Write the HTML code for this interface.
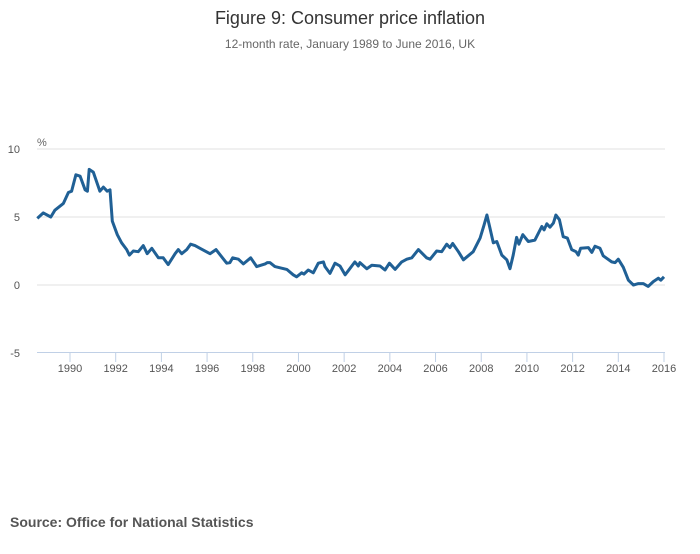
<!DOCTYPE html>
<html><head><meta charset="utf-8">
<style>
html,body{margin:0;padding:0;background:#fff;}
body{width:700px;height:549px;overflow:hidden;font-family:"Liberation Sans",sans-serif;}
svg text{font-family:"Liberation Sans",sans-serif;}
</style></head>
<body>
<svg id="chart" width="700" height="549" viewBox="0 0 700 549" xmlns="http://www.w3.org/2000/svg">
<text x="350" y="24" text-anchor="middle" font-size="18" fill="#333">Figure 9: Consumer price inflation</text>
<text x="350" y="48" text-anchor="middle" font-size="12" fill="#666">12-month rate, January 1989 to June 2016, UK</text>
<text x="37" y="146" font-size="11" fill="#666">%</text>
<g id="grid"></g>
<g id="yticks"></g>
<g id="xaxis"></g>
<path id="line" fill="none" stroke="#206095" stroke-width="3" stroke-linejoin="round"></path>
<text x="10" y="527" font-size="14" font-weight="bold" fill="#555">Source: Office for National Statistics</text>
</svg>
<script>
const years=[1988.57,1988.83,1989.16,1989.34,1989.71,1989.93,1990.07,1990.26,1990.44,1990.66,1990.76,1990.84,1991.02,1991.31,1991.46,1991.63,1991.75,1991.85,1992.07,1992.26,1992.48,1992.60,1992.77,1992.99,1993.21,1993.38,1993.58,1993.87,1994.08,1994.30,1994.60,1994.74,1994.89,1995.11,1995.28,1995.47,1995.69,1996.13,1996.39,1996.86,1997.00,1997.12,1997.37,1997.59,1997.91,1998.17,1998.54,1998.64,1998.75,1998.97,1999.49,1999.77,1999.92,2000.14,2000.24,2000.43,2000.65,2000.87,2001.09,2001.16,2001.38,2001.60,2001.82,2002.04,2002.18,2002.47,2002.62,2002.69,2002.99,2003.21,2003.57,2003.79,2003.98,2004.23,2004.52,2004.74,2004.96,2005.25,2005.61,2005.76,2006.05,2006.27,2006.49,2006.63,2006.75,2007.00,2007.22,2007.43,2007.65,2007.95,2008.12,2008.25,2008.38,2008.53,2008.68,2008.90,2009.12,2009.26,2009.40,2009.55,2009.65,2009.82,2010.06,2010.35,2010.65,2010.75,2010.87,2011.01,2011.16,2011.27,2011.42,2011.59,2011.77,2011.96,2012.15,2012.25,2012.35,2012.69,2012.84,2012.98,2013.20,2013.34,2013.71,2013.86,2014.00,2014.22,2014.44,2014.66,2014.88,2015.09,2015.31,2015.53,2015.75,2015.86,2016.00];
const values=[4.9,5.3,5.0,5.5,6.0,6.8,6.9,8.1,8.0,7.0,6.9,8.5,8.3,6.9,7.2,6.9,7.0,4.7,3.7,3.1,2.6,2.2,2.5,2.45,2.9,2.3,2.7,2.0,2.0,1.5,2.3,2.6,2.3,2.6,3.0,2.9,2.7,2.3,2.6,1.6,1.65,2.0,1.9,1.55,2.0,1.35,1.55,1.65,1.65,1.35,1.15,0.75,0.6,0.9,0.8,1.1,0.9,1.6,1.7,1.35,0.85,1.6,1.4,0.75,1.05,1.7,1.4,1.65,1.2,1.45,1.4,1.1,1.6,1.15,1.7,1.9,2.0,2.6,2.0,1.9,2.5,2.45,3.0,2.75,3.05,2.45,1.85,2.15,2.45,3.45,4.4,5.15,4.2,3.1,3.2,2.2,1.85,1.2,2.2,3.5,3.0,3.7,3.2,3.3,4.3,4.05,4.5,4.25,4.55,5.15,4.8,3.55,3.45,2.6,2.45,2.2,2.7,2.75,2.4,2.85,2.7,2.15,1.7,1.65,1.9,1.3,0.35,0.0,0.1,0.1,-0.1,0.25,0.5,0.35,0.6];
const yTicks=[10,5,0,-5];
const xTicks=[1990,1992,1994,1996,1998,2000,2002,2004,2006,2008,2010,2012,2014,2016];
const NS='http://www.w3.org/2000/svg';
function x(t){return 70+(t-1990)*(664-70)/26;}
function y(v){return 285-v*13.6;}
function mk(tag,attrs,parent,txt){const e=document.createElementNS(NS,tag);for(const k in attrs)e.setAttribute(k,attrs[k]);if(txt!==undefined)e.textContent=txt;parent.appendChild(e);return e;}
const grid=document.getElementById('grid'),yt=document.getElementById('yticks'),xa=document.getElementById('xaxis');
yTicks.forEach(v=>{
  if(v!==-5){const g=mk('line',{x1:37,x2:665,y1:y(v),y2:y(v),stroke:'#e2e2e2','stroke-width':1},grid);
  
  }
  const t=mk('text',{x:20,y:y(v)+4,'text-anchor':'end','font-size':11,fill:'#555'},yt,String(v));
  
  
});
const ax=mk('line',{x1:37,x2:665,y1:352.5,y2:352.5,stroke:'#c0d0e6','stroke-width':1},xa);


xTicks.forEach(t=>{
  const tk=mk('line',{x1:x(t),x2:x(t),y1:352,y2:362,stroke:'#c0d0e6','stroke-width':1},xa);
  
  
  const l=mk('text',{x:x(t),y:372,'text-anchor':'middle','font-size':11,fill:'#555'},xa,String(t));
  
  
});
document.getElementById('line').setAttribute('d',years.map((t,i)=>(i?'L':'M')+x(t).toFixed(1)+','+y(values[i]).toFixed(1)).join(''));
</script>
</body></html>
